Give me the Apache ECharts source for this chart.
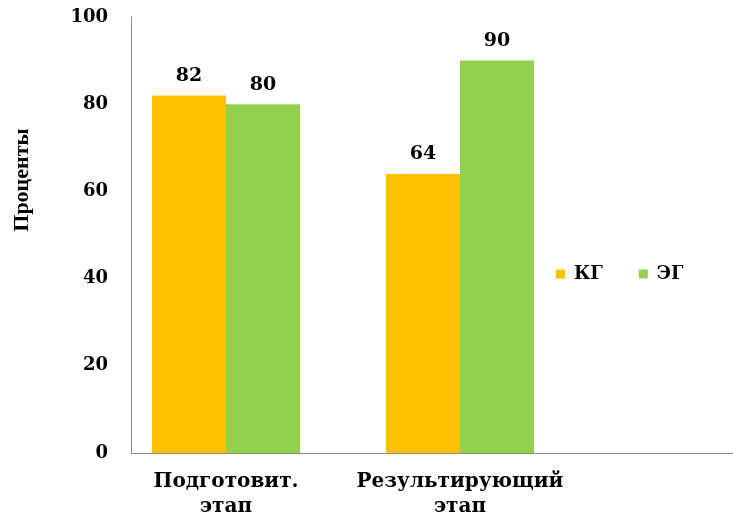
<!DOCTYPE html>
<html><head><meta charset="utf-8">
<script src="https://cdn.jsdelivr.net/npm/echarts@6/dist/echarts.min.js"></script>
<style>html,body{margin:0;padding:0;background:#fff}#c{width:733px;height:517px}</style>
</head><body><div id="c"></div>
<script>
const categories = ['Подготовит.\nэтап', 'Результирующий\nэтап', ''];
const seriesNames = ['КГ', 'ЭГ'];
const kgValues = [82, 64, null];
const egValues = [80, 90, null];
const yTicks = [0, 20, 40, 60, 80, 100];

const font = "'DejaVu Serif', 'Liberation Serif', serif";
const font2 = "'Liberation Serif', 'DejaVu Serif', serif";
const chart = echarts.init(document.getElementById('c'));
chart.setOption({
  animation: false,
  textStyle: { fontFamily: font },
  legend: {
    data: seriesNames,
    left: 551, top: 260,
    itemWidth: 9, itemHeight: 9, itemGap: 36,
    icon: 'rect',
    textStyle: { fontFamily: font, fontWeight: 'bold', fontSize: 18, color: '#000', padding: [0, 0, 0, 4] }
  },
  grid: [
    { left: 109, top: 17, width: 702, height: 436, outerBoundsMode: 'none', containLabel: false },
    { left: 131, top: 17, right: 0, height: 436, outerBoundsMode: 'none', containLabel: false }
  ],
  xAxis: [
    {
      type: 'category', data: categories, gridIndex: 0,
      axisLine: { show: false },
      axisTick: { show: false },
      axisLabel: { fontFamily: font, fontWeight: 'bold', fontSize: 20, color: '#000', margin: 16, lineHeight: 25, interval: 0 }
    },
    {
      type: 'value', gridIndex: 1, min: 0, max: 1,
      axisLine: { show: true, lineStyle: { color: '#8c8c8c', width: 1 } },
      axisTick: { show: false }, axisLabel: { show: false }, splitLine: { show: false }
    }
  ],
  yAxis: [
    {
      type: 'value', gridIndex: 0, min: yTicks[0], max: yTicks[yTicks.length - 1], interval: 20,
      offset: -22,
      name: 'Проценты', nameLocation: 'middle', nameGap: 98, nameRotate: 90,
      nameTextStyle: { fontFamily: font2, fontWeight: 'bold', fontSize: 22, color: '#000', padding: [0, 0, 0, 110] },
      axisLine: { show: true, lineStyle: { color: '#8c8c8c', width: 1 } },
      axisTick: { show: false },
      splitLine: { show: false },
      axisLabel: { fontFamily: font, fontWeight: 'bold', fontSize: 18, color: '#000', margin: 23 }
    },
    { type: 'value', gridIndex: 1, min: 0, max: 1, show: false }
  ],
  series: [
    { name: seriesNames[0], type: 'bar', data: kgValues, barWidth: 74, barGap: '0%',
      itemStyle: { color: '#FFC000' },
      label: { show: true, position: 'top', distance: 10, fontFamily: font, fontWeight: 'bold', fontSize: 19, color: '#000' } },
    { name: seriesNames[1], type: 'bar', data: egValues, barWidth: 74, barGap: '0%',
      itemStyle: { color: '#92D050' },
      label: { show: true, position: 'top', distance: 10, fontFamily: font, fontWeight: 'bold', fontSize: 19, color: '#000' } }
  ]
});
</script></body></html>
